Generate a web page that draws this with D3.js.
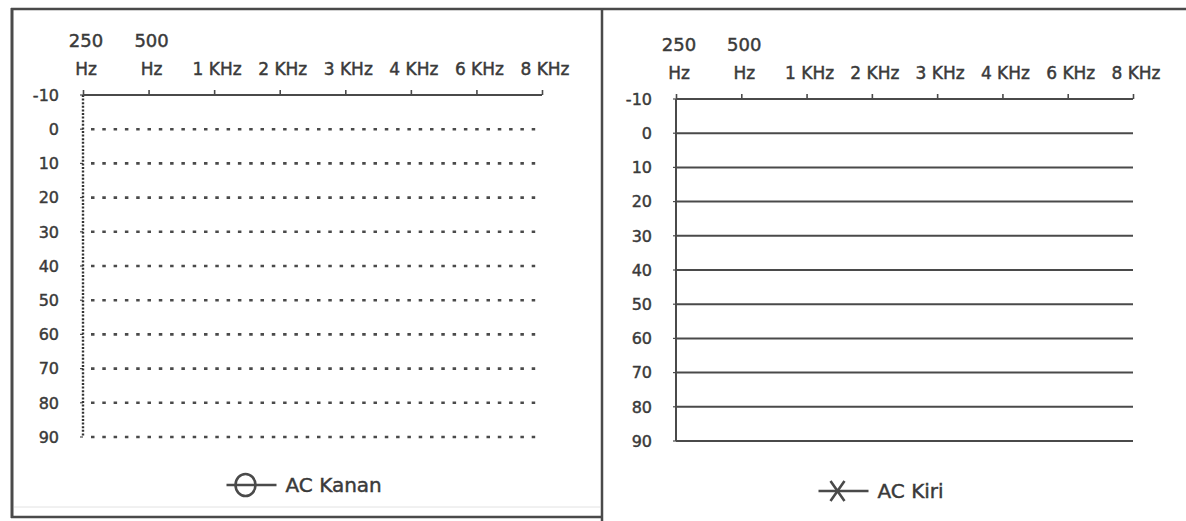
<!DOCTYPE html>
<html>
<head>
<meta charset="utf-8">
<script src="https://cdn.jsdelivr.net/npm/d3@7"></script>
<style>
  body { margin: 0; background: #fff; }
  svg { display: block; }
  text { font-family: "DejaVu Sans", "Liberation Sans", Arial, sans-serif; fill: #3a3a3a; stroke: #3a3a3a; stroke-width: 0.45px; }
</style>
</head>
<body>
<div id="chart"></div>
<script>
// audiogram frame, no measured points yet
let freqs = ["250", "500", "1000", "2000", "3000", "4000", "6000", "8000"];
let freqLabels = ["250 Hz", "500 Hz", "1 KHz", "2 KHz", "3 KHz", "4 KHz", "6 KHz", "8 KHz"];
let dbLevels = [-10, 0, 10, 20, 30, 40, 50, 60, 70, 80, 90];
let seriesNames = ["AC Kanan", "AC Kiri"];
let seriesMarkers = ["circle", "cross"];
let acKanan = [];
let acKiri = [];

let width = 1186;
let height = 521;
let lineColor = "#4a4a4a";

let svg = d3.select("#chart").append("svg")
  .attr("width", width).attr("height", height);

// outer frame of the scanned form
svg.append("line").attr("x1", 11).attr("x2", width).attr("y1", 9).attr("y2", 9)
  .attr("stroke", lineColor).attr("stroke-width", 2.5);
svg.append("line").attr("x1", 12).attr("x2", 12).attr("y1", 8).attr("y2", 518)
  .attr("stroke", lineColor).attr("stroke-width", 3);
svg.append("line").attr("x1", 602).attr("x2", 602).attr("y1", 8).attr("y2", 521)
  .attr("stroke", lineColor).attr("stroke-width", 2.5);
svg.append("line").attr("x1", 11).attr("x2", 602).attr("y1", 517).attr("y2", 517)
  .attr("stroke", lineColor).attr("stroke-width", 2.5);
svg.append("line").attr("x1", 14).attr("x2", 600).attr("y1", 507).attr("y2", 507)
  .attr("stroke", "#e2e2e2").attr("stroke-width", 1);

/**
 * draws one audiogram panel
 * x0, x1: pixel range of the frequency axis, y0, y1: range of the dB axis
 */
function makeAudiogram(x0, x1, y0, y1, dotted, name, marker, values, legendY)
{
  let xScale = d3.scalePoint().domain(freqs).range([x0, x1]);
  let yScale = d3.scaleLinear().domain([d3.min(dbLevels), d3.max(dbLevels)]).range([y0, y1]);

  let g = svg.append("g");

  // grid rows (0 .. 90)
  g.append("g").selectAll("line")
    .data(dbLevels.slice(1))
    .enter()
    .append("line")
    .attr("x1", dotted ? x0 + 8 : x0)
    .attr("x2", x1)
    .attr("y1", function(d){ return yScale(d); })
    .attr("y2", function(d){ return yScale(d); })
    .attr("stroke", lineColor)
    .attr("stroke-width", dotted ? 2.6 : 2)
    .attr("stroke-dasharray", dotted ? "3.5,7.8" : null);

  // small ticks on the dB axis
  g.append("g").selectAll("line")
    .data(dbLevels)
    .enter()
    .append("line")
    .attr("x1", x0 - 3).attr("x2", x0)
    .attr("y1", function(d){ return yScale(d); })
    .attr("y2", function(d){ return yScale(d); })
    .attr("stroke", lineColor).attr("stroke-width", 1.2);

  // vertical dB axis
  g.append("line")
    .attr("x1", x0).attr("x2", x0)
    .attr("y1", yScale(-10)).attr("y2", yScale(90))
    .attr("stroke", dotted ? "#333" : lineColor)
    .attr("stroke-width", dotted ? 2.4 : 2)
    .attr("stroke-dasharray", dotted ? "2,1.6" : null);

  // frequency axis along the -10 row, ticks pointing up
  let xAxis = d3.axisTop(xScale).tickSize(5).tickFormat("");
  let ax = g.append("g")
    .attr("transform", "translate(0," + yScale(-10) + ")")
    .call(xAxis);
  ax.select(".domain").attr("d", "M" + x0 + ",0H" + x1).attr("stroke", lineColor).attr("stroke-width", 2);
  ax.selectAll(".tick line").attr("stroke", lineColor).attr("stroke-width", 1.6);

  // frequency labels: "250 Hz" / "500 Hz" go over two lines
  freqs.forEach(function(f, i){
    let lab = freqLabels[i];
    let cx = xScale(f) + 3;
    if (lab.indexOf("KHz") < 0) {
      let parts = lab.split(" ");
      g.append("text").attr("x", cx).attr("y", y0 - 48)
        .attr("text-anchor", "middle").style("font-size", "18px").text(parts[0]);
      g.append("text").attr("x", cx).attr("y", y0 - 20)
        .attr("text-anchor", "middle").style("font-size", "17px").text(parts[1]);
    } else {
      g.append("text").attr("x", cx).attr("y", y0 - 20)
        .attr("text-anchor", "middle").style("font-size", "17px").text(lab);
    }
  });

  // dB labels
  g.append("g").selectAll("text")
    .data(dbLevels)
    .enter()
    .append("text")
    .attr("x", x0 - 24)
    .attr("y", function(d){ return yScale(d); })
    .attr("dy", "0.36em")
    .attr("text-anchor", "end")
    .style("font-size", "16px")
    .text(function(d){ return d; });

  // series (empty on this form)
  let line = d3.line()
    .x(function(d){ return xScale(d.freq); })
    .y(function(d){ return yScale(d.db); });
  g.append("path").datum(values).attr("d", line).attr("fill", "none").attr("stroke", lineColor);

  // legend
  let lx = (x0 + x1) / 2 - 67;
  let lg = g.append("g").attr("transform", "translate(" + lx + "," + legendY + ")");
  lg.append("line").attr("x1", -19).attr("x2", 31).attr("y1", 0).attr("y2", 0)
    .attr("stroke", lineColor).attr("stroke-width", 2.4);
  if (marker === "circle") {
    lg.append("ellipse").attr("cx", 0).attr("cy", 0).attr("rx", 10).attr("ry", 11)
      .attr("fill", "none").attr("stroke", lineColor).attr("stroke-width", 2.6);
  } else {
    lg.append("path").attr("d", "M-7,-10L7,10M7,-10L-7,10")
      .attr("fill", "none").attr("stroke", lineColor).attr("stroke-width", 2.6);
  }
  lg.append("text").attr("x", 40).attr("y", 0).attr("dy", "0.36em")
    .style("font-size", "20px").text(name);
}

makeAudiogram(83, 542, 95, 437, true, seriesNames[0], seriesMarkers[0], acKanan, 485);
makeAudiogram(676, 1133, 99, 441, false, seriesNames[1], seriesMarkers[1], acKiri, 491);
</script>
</body>
</html>
